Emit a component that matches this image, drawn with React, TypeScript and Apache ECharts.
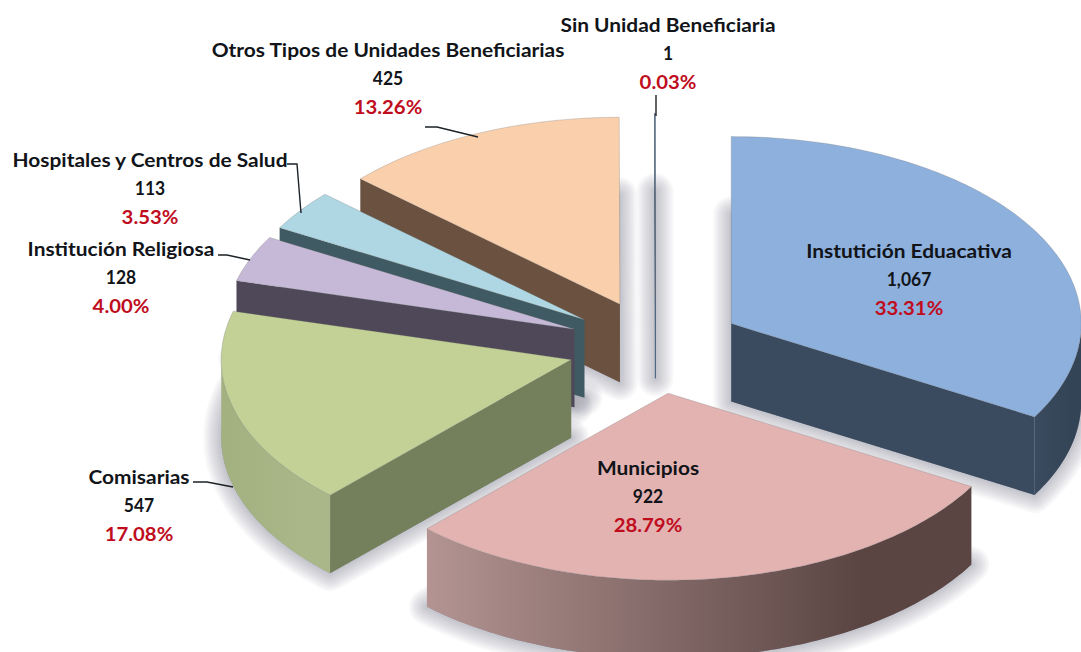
import React, { useEffect, useRef } from "react";
import * as echarts from "echarts";

const names = [
  "Instutición Eduacativa",
  "Municipios",
  "Comisarias",
  "Institución Religiosa",
  "Hospitales y Centros de Salud",
  "Otros Tipos de Unidades Beneficiarias",
  "Sin Unidad Beneficiaria",
];
const values = [1067, 922, 547, 128, 113, 425, 1];
const valueLabels = ["1,067", "922", "547", "128", "113", "425", "1"];
const percentLabels = ["33.31%", "28.79%", "17.08%", "4.00%", "3.53%", "13.26%", "0.03%"];

const topColors = ["#8db0dd", "#e3b3b2", "#c3d196", "#c6b9d7", "#aed7e3", "#fad0ac", "#4f6f92"];
const cutColors = ["#3a4b5f", "#5a4543", "#747f5b", "#4e4858", "#3f5a63", "#6b5240", "#3f5a78"];
const rimColors = [
  ["#3a4b5f", "#334457"],
  ["#b39492", "#5a4543"],
  ["#a3b080", "#aab788"],
  ["#4e4858", "#4e4858"],
  ["#3f5a63", "#3f5a63"],
  ["#6b5240", "#6b5240"],
  ["#3f5a78", "#3f5a78"],
];
const paintRank = [5, 6, 4, 3, 2, 0, 1];

// layout of label centres: [x, first line y], and leader polylines
const labelPos = [
  [909, 250],
  [648, 467],
  [139, 476],
  [121, 248],
  [150, 159],
  [388, 49],
  [668, 24],
];
const lineStep = 29;
const leaders = [
  null,
  null,
  [[193, 482], [207, 482], [233, 487]],
  [[218, 255], [227, 255], [250, 260]],
  [[287, 164], [297, 164], [301, 213]],
  [[425, 127], [437, 127], [478, 137]],
  [[656, 95], [656, 116]],
];

const CX = 655.5;
const CY = 347;
const RX = 350;
const RY = 187;
const DEPTH = 78;
const EXPLODE = 0.25;
const FONT = "Lato";
// [font size, horizontal stretch] of the name, value and percent lines
const lineFonts = [
  [19, 1.1],
  [19, 0.92],
  [19, 1.07],
];
const shadowWidths = [4, 8, 12, 16, 20, 24, 28, 32, 36];

const total = values.reduce((a, b) => a + b, 0);
const startFractions = values.map((_, i) => values.slice(0, i).reduce((a, b) => a + b, 0) / total);

function renderItem(params: any, api: any) {
  const i = params.dataIndex;
  const v = api.value(0);
  const a0 = startFractions[i] * Math.PI * 2;
  const a1 = a0 + (v / total) * Math.PI * 2;
  const mid = (a0 + a1) / 2;
  const ox = CX + EXPLODE * RX * Math.sin(mid);
  const oy = CY - EXPLODE * RY * Math.cos(mid);
  const pt = (a: number, dz = 0): number[] => [ox + RX * Math.sin(a), oy - RY * Math.cos(a) + dz];
  const arc = (from: number, to: number, dz = 0) => {
    const n = Math.max(2, Math.ceil(Math.abs(to - from) / (Math.PI / 180)));
    const out: number[][] = [];
    for (let k = 0; k <= n; k++) out.push(pt(from + ((to - from) * k) / n, dz));
    return out;
  };
  const base = paintRank[i] * 10 + 10;
  const children: any[] = [];

  // soft shadow around the bottom face, built from widening translucent outlines
  const bottomFace = [[ox, oy + DEPTH], ...arc(a0, a1, DEPTH)];
  shadowWidths.forEach((w) => {
    children.push({
      type: "polygon",
      z2: 1,
      shape: { points: bottomFace },
      style: { fill: "rgba(60,60,85,0.035)", stroke: "rgba(60,60,85,0.035)", lineWidth: w, lineJoin: "round" },
    });
  });

  // outer wall: the part of the rim on the front half
  const lo = Math.max(a0, Math.PI / 2);
  const hi = Math.min(a1, (Math.PI * 3) / 2);
  if (hi > lo) {
    children.push({
      type: "polygon",
      z2: base,
      shape: { points: [...arc(lo, hi), ...arc(hi, lo, DEPTH)] },
      style: {
        fill: new echarts.graphic.LinearGradient(0, 0, 1, 0, [
          { offset: 0, color: rimColors[i][0] },
          { offset: 0.8, color: rimColors[i][1] },
          { offset: 1, color: rimColors[i][1] },
        ]),
      },
    });
  }
  // cut walls: the start edge shows when it points left, the end edge when it points right
  const cutWall = (a: number) => ({
    type: "polygon",
    z2: base + 1,
    shape: { points: [[ox, oy], pt(a), pt(a, DEPTH), [ox, oy + DEPTH]] },
    style: { fill: cutColors[i], stroke: i === 6 ? cutColors[i] : undefined, lineWidth: i === 6 ? 0.7 : 0 },
  });
  if (Math.sin(a0) < -1e-6) children.push(cutWall(a0));
  if (Math.sin(a1) > 1e-6) children.push(cutWall(a1));

  // top face
  children.push({
    type: "polygon",
    z2: base + 2,
    shape: { points: [[ox, oy], ...arc(a0, a1)] },
    style: { fill: topColors[i], stroke: "rgba(110,110,110,0.45)", lineWidth: 0.6 },
  });

  // labels
  const [lx, ly] = labelPos[i];
  const lines = [names[i], valueLabels[i], percentLabels[i]];
  lines.forEach((t, k) => {
    children.push({
      type: "text",
      z2: 200,
      x: lx,
      y: ly + k * lineStep,
      scaleX: lineFonts[k][1],
      style: {
        text: t,
        fill: k === 2 ? "#c00d1e" : "#111418",
        font: `bold ${lineFonts[k][0]}px ${FONT}`,
        align: "center",
        verticalAlign: "middle",
      },
    });
  });
  const leader = leaders[i];
  if (leader) {
    children.push({
      type: "polyline",
      z2: 150,
      shape: { points: leader },
      style: { fill: "none", stroke: "#1c2226", lineWidth: 1.4 },
    });
  }
  return { type: "group", children };
}

export default function App() {
  const ref = useRef<HTMLDivElement>(null);
  useEffect(() => {
    document.body.style.margin = "0";
    const chart = echarts.init(ref.current!, null, { renderer: "svg" });
    chart.setOption({
      animation: false,
      backgroundColor: "#ffffff",
      series: [
        {
          type: "custom",
          coordinateSystem: "none",
          clip: false,
          silent: true,
          renderItem,
          data: values.map((v) => [v]),
        },
      ],
    });
    return () => chart.dispose();
  }, []);
  return <div ref={ref} style={{ position: "fixed", left: 0, top: 0, width: 1081, height: 652 }} />;
}
